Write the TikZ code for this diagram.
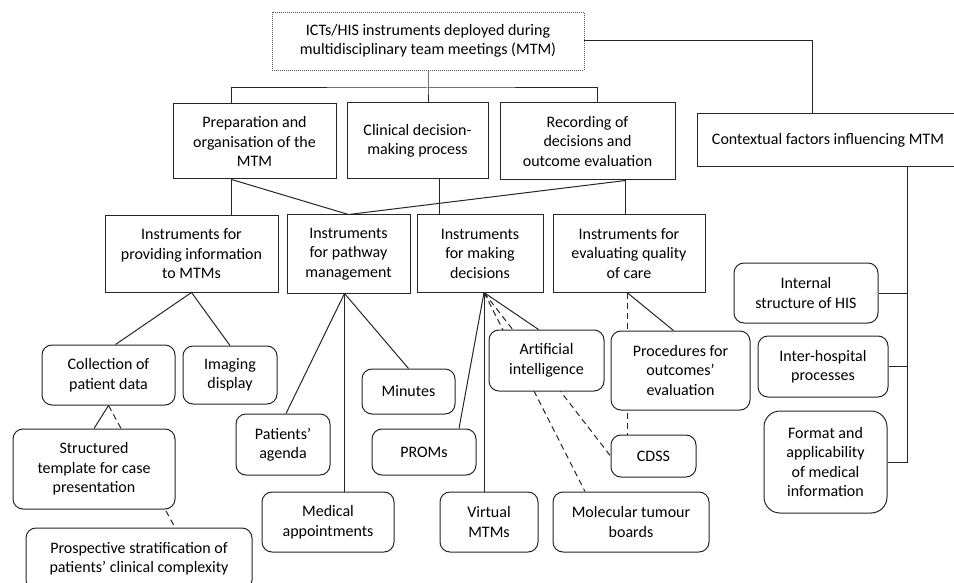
\documentclass[tikz,border=0pt]{standalone}
\usepackage{fontspec}
\setmainfont{Carlito}
\usetikzlibrary{backgrounds}
\tikzset{
    sqbox/.style = {draw = black!85, line width = 1pt, fill = white, align = center, inner sep = 0pt, font = \fontsize{16}{19.5}\selectfont},
    rndbox/.style = {sqbox, rounded corners = 10pt},
    dotbox/.style = {sqbox, draw = black!65, line width = 0.9pt, dash pattern = on 1pt off 1pt},
    link/.style = {draw = black!85, line width = 1pt},
    dashlink/.style = {link, dash pattern = on 6pt off 4pt}
}
\begin{document}
\begin{tikzpicture}[x = 1pt, y = -1pt]
        \useasboundingbox (0, 0) rectangle (954, 583);
        % top and first level
        \node[dotbox, minimum width = 312, minimum height = 58](top) at (428, 41){ICTs/HIS instruments deployed during\\multidisciplinary team meetings (MTM)};
        \node[sqbox, minimum width = 163, minimum height = 75](prep) at (254.5, 141.5){Preparation and\\organisation of the\\MTM};
        \node[sqbox, minimum width = 141, minimum height = 76](clin) at (417.5, 141){Clinical decision-\\making process};
        \node[sqbox, minimum width = 175, minimum height = 77](rec) at (587.5, 141.5){Recording of\\decisions and\\outcome evaluation};
        \node[sqbox, minimum width = 262, minimum height = 53](ctx) at (828, 140.5){Contextual factors influencing MTM};
        % second level
        \node[sqbox, minimum width = 173, minimum height = 76](prov) at (191.5, 254){Instruments for\\providing information\\to MTMs};
        \node[sqbox, minimum width = 123, minimum height = 78](pathw) at (348.5, 254){Instruments\\for pathway\\management};
        \node[sqbox, minimum width = 126, minimum height = 77](dec) at (480, 253.5){Instruments\\for making\\decisions};
        \node[sqbox, minimum width = 152, minimum height = 77](qual) at (629, 253.5){Instruments for\\evaluating quality\\of care};
        % instruments
        \node[rndbox, minimum width = 133, minimum height = 60](coll) at (108.5, 375){Collection of\\patient data};
        \node[rndbox, minimum width = 94, minimum height = 58](img) at (230, 375){Imaging\\display};
        \node[rndbox, minimum width = 162, minimum height = 80](struct) at (94, 469){Structured\\template for case\\presentation};
        \node[rndbox, minimum width = 226, minimum height = 62](prosp) at (139, 559){Prospective stratification of\\patients’ clinical complexity};
        \node[rndbox, minimum width = 94, minimum height = 61](agenda) at (283, 444.5){Patients’\\agenda};
        \node[rndbox, minimum width = 132, minimum height = 60](med) at (328, 522){Medical\\appointments};
        \node[rndbox, minimum width = 93, minimum height = 45](minutes) at (408.5, 391.5){Minutes};
        \node[rndbox, minimum width = 104, minimum height = 46](proms) at (424, 452){PROMs};
        \node[rndbox, minimum width = 98, minimum height = 60](virt) at (489, 522){Virtual\\MTMs};
        \node[rndbox, minimum width = 115, minimum height = 61](ai) at (546.5, 360.5){Artificial\\intelligence};
        \node[rndbox, minimum width = 139, minimum height = 79](proc) at (680.5, 370.5){Procedures for\\outcomes’\\evaluation};
        \node[rndbox, minimum width = 85, minimum height = 42](cdss) at (653.5, 456){CDSS};
        \node[rndbox, minimum width = 156, minimum height = 60](mtb) at (631, 522){Molecular tumour\\boards};
        \node[rndbox, minimum width = 144, minimum height = 60](intl) at (806, 293){Internal\\structure of HIS};
        \node[rndbox, minimum width = 130, minimum height = 61](inter) at (823, 366.5){Inter-hospital\\processes};
        \node[rndbox, rounded corners = 16pt, minimum width = 123, minimum height = 102](fmt) at (825.5, 462){Format and\\applicability\\of medical\\information};
        % connectors
        \coordinate (bus) at (428, 88);
        \coordinate (prepout) at ([xshift = -23]prep.south);
        \coordinate (clinout) at ([xshift = 22]clin.south);
        \coordinate (recout) at ([xshift = 38]rec.south);
        \coordinate (ctxout) at ([xshift = 79]ctx.south);
        \coordinate (pathout) at ([xshift = -4]pathw.south);
        \coordinate (decout) at ([xshift = 4]dec.south);
        \coordinate (qualout) at ([xshift = -2]qual.south);
        \coordinate (ctxend) at (ctxout |- fmt.east);
        \begin{scope}[on background layer]
            \draw[link] (top.south) -- (bus) -- (bus |- clin.north);
            \draw[link] ([xshift = -23]prep.north) |- (bus) -| ([xshift = 10]rec.north);
            \draw[link] (top.east) -| ([xshift = -16]ctx.north);
            \draw[link] (prepout) -- (prepout |- prov.north);
            \draw[link] (prepout) -- (pathw.north) -- (recout);
            \draw[link] (clinout) -- (clinout |- dec.north);
            \draw[link] (recout) -- (recout |- qual.north);
            \draw[link] ([xshift = 7]coll.north) -- (prov.south) -- (img.north);
            \draw[link] (coll.south) -- (struct.north);
            \draw[dashlink] (coll.south) -- ([xshift = 36]prosp.north);
            \draw[link] ([xshift = 3]agenda.north) -- (pathout) -- (minutes.north);
            \draw[link] (pathout) -- (pathout |- med.north);
            \draw[link] ([xshift = 35]proms.north) -- (decout) -- ([xshift = -8]ai.north);
            \draw[link] (decout) -- (decout |- virt.north);
            \draw[dashlink] (decout) -- (cdss.west);
            \draw[dashlink] (decout) -- ([xshift = -46]mtb.north);
            \draw[dashlink] (qualout) -- (qualout |- cdss.north);
            \draw[link] (qualout) -- ([xshift = -7]proc.north);
            \draw[link] (ctxout) -- (ctxend) -- (fmt.east);
            \draw[link] (intl.east) -- (intl.east -| ctxout);
            \draw[link] (inter.east) -- (inter.east -| ctxout);
        \end{scope}
    \end{tikzpicture}
\end{document}
